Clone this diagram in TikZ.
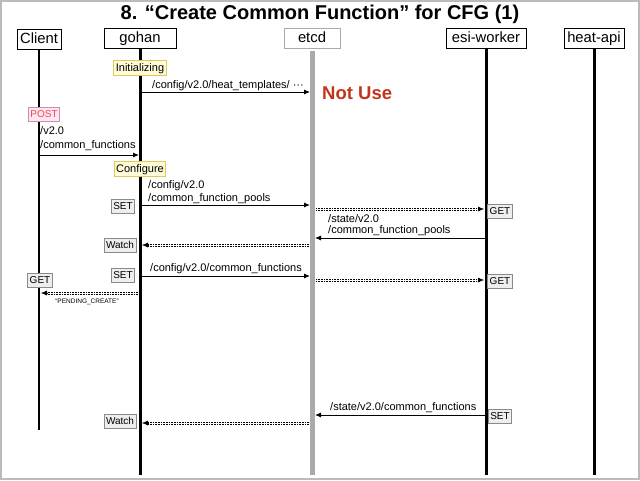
\documentclass[tikz,border=0pt]{standalone}
\usepackage{fontspec}
\setmainfont{Liberation Sans}
\usetikzlibrary{arrows.meta,calc}
\definecolor{frame}{HTML}{BBBBBB}
\definecolor{etcdgray}{HTML}{AAAAAA}
\definecolor{noteyel}{HTML}{FFFBD8}
\definecolor{notebord}{HTML}{DCCB5A}
\definecolor{tagfill}{HTML}{EEEEEE}
\definecolor{tagbord}{HTML}{8A8A8A}
\definecolor{postfill}{HTML}{FFE6F3}
\definecolor{postbord}{HTML}{C890B0}
\definecolor{posttext}{HTML}{F04848}
\definecolor{notuse}{HTML}{C4341C}
\tikzset{
  x=1pt, y=-1pt,
  head/.style={draw, line width=1pt, font=\fontsize{14.8}{16}\selectfont, minimum height=20pt, inner sep=1pt, text height=10.2pt, text depth=0.5pt},
  note/.style={draw=notebord, fill=noteyel, line width=1pt, font=\fontsize{11}{12}\selectfont, inner sep=2pt, minimum height=15pt, text height=8pt, text depth=1pt},
  tag/.style={draw=tagbord, fill=tagfill, line width=0.6pt, font=\fontsize{10}{11}\selectfont, inner sep=2pt, minimum height=14pt, text height=7.3pt, text depth=0.5pt},
  lbl/.style={anchor=west, font=\fontsize{11}{12}\selectfont, inner sep=0pt},
  msg/.style={line width=0.9pt, -{Latex[length=6pt,width=5pt]}},
  dotl/.style={line width=0.7pt, dash pattern=on 0.8pt off 0.8pt},
  tip/.style={line width=0.5pt, -{Latex[length=6pt,width=5pt]}},
}
\newcommand{\dbl}[2]{%
  \draw[dotl, transform canvas={yshift=1.1pt}] (#1) -- ($(#2)!4pt!(#1)$);
  \draw[dotl, transform canvas={yshift=-1.1pt}] (#1) -- ($(#2)!4pt!(#1)$);
  \draw[tip] ($(#2)!6.5pt!(#1)$) -- (#2);}
\begin{document}
\begin{tikzpicture}
\useasboundingbox (0,0) rectangle (640,480);
\draw[frame, line width=2pt] (1,1) rectangle (638.5,478.5);
\node[font=\bfseries\fontsize{20}{22}\selectfont] (title) at (320,14) {8. “Create Common Function” for CFG (1)};
% heads
\node[head, minimum width=44pt] (client) at (39,39) {Client};
\node[head, minimum width=72pt] (gohan) at (140,38) {gohan};
\node[head, draw=etcdgray, minimum width=56pt] (etcd) at (312,38) {etcd};
\node[head, minimum width=80pt] (esi) at (486,38) {esi-worker};
\node[head, minimum width=60pt] (heat) at (594,38) {heat-api};
% lifeline ends
\coordinate (clientE) at (39,430);
\coordinate (gohanE) at (140,475);
\coordinate (etcdS) at (312,51);
\coordinate (etcdE) at (312,475);
\coordinate (esiE) at (486,475);
\coordinate (heatE) at (594,475);
\draw[line width=1.2pt] (client.south) -- (clientE);
\draw[line width=3pt] (gohan.south) -- (gohanE);
\draw[etcdgray, line width=5pt] (etcdS) -- (etcdE);
\draw[line width=3pt] (esi.south) -- (esiE);
\draw[line width=3pt] (heat.south) -- (heatE);
% Initializing
\node[note] (init) at (140,68) {Initializing};
\coordinate (g1) at (141,92); \coordinate (e1) at (310,92);
\draw[msg] (g1) -- (e1);
\node[lbl] (l1) at (152,86) {/config/v2.0/heat\_templates/ ···};
\node[anchor=west, text=notuse, font=\bfseries\fontsize{18.5}{20}\selectfont, inner sep=0pt] (notuse) at (322,93) {Not Use};
% POST
\node[draw=postbord, fill=postfill, text=posttext, line width=0.6pt, font=\fontsize{10}{12}\selectfont, inner sep=2pt, minimum height=14pt, text height=7.3pt, text depth=0.5pt] (post) at (44,114) {POST};
\node[lbl] (l2a) at (40,131) {/v2.0};
\node[lbl] (l2b) at (40,146) {/common\_functions};
\coordinate (c2) at (39,155); \coordinate (g2) at (139,155);
\draw[msg] (c2) -- (g2);
% Configure
\node[note] (conf) at (140,169) {Configure};
\node[lbl] (l3a) at (148,186) {/config/v2.0};
\node[lbl] (l3b) at (148,199) {/common\_function\_pools};
\coordinate (g3) at (141,205); \coordinate (e3) at (310,205);
\draw[msg] (g3) -- (e3);
\node[tag] (set1) at (123,206) {SET};
% etcd -> esi GET
\coordinate (e4) at (316,209); \coordinate (w4) at (484,209);
\dbl{e4}{w4}
\node[tag] (get1) at (500,211) {GET};
% esi -> etcd state
\node[lbl] (l5a) at (328,219) {/state/v2.0};
\node[lbl] (l5b) at (328,231) {/common\_function\_pools};
\coordinate (w5) at (485,238); \coordinate (e5) at (315,238);
\draw[msg] (w5) -- (e5);
% watch
\node[tag] (watch1) at (120,245) {Watch};
\coordinate (e6) at (309,245); \coordinate (g6) at (142,245);
\dbl{e6}{g6}
% SET common_functions
\node[tag] (set2) at (123,275) {SET};
\node[lbl] (l7) at (150,269) {/config/v2.0/common\_functions};
\coordinate (g7) at (141,276); \coordinate (e7) at (310,276);
\draw[msg] (g7) -- (e7);
% GET client
\node[tag] (get2) at (40,280) {GET};
\coordinate (e8) at (316,280); \coordinate (w8) at (484,280);
\dbl{e8}{w8}
\node[tag] (get3) at (500,281) {GET};
% pending create
\coordinate (g9) at (138,293); \coordinate (c9) at (41,293);
\dbl{g9}{c9}
\node[font=\fontsize{6.5}{7}\selectfont, inner sep=0pt] (pend) at (87,302) {“PENDING\_CREATE”};
% state common_functions
\node[lbl] (l10) at (330,408) {/state/v2.0/common\_functions};
\coordinate (w10) at (485,415); \coordinate (e10) at (315,415);
\draw[msg] (w10) -- (e10);
\node[tag] (set3) at (500,416) {SET};
% watch 2
\node[tag] (watch2) at (120,421) {Watch};
\coordinate (e11) at (309,423); \coordinate (g11) at (142,423);
\dbl{e11}{g11}
\end{tikzpicture}
\end{document}
